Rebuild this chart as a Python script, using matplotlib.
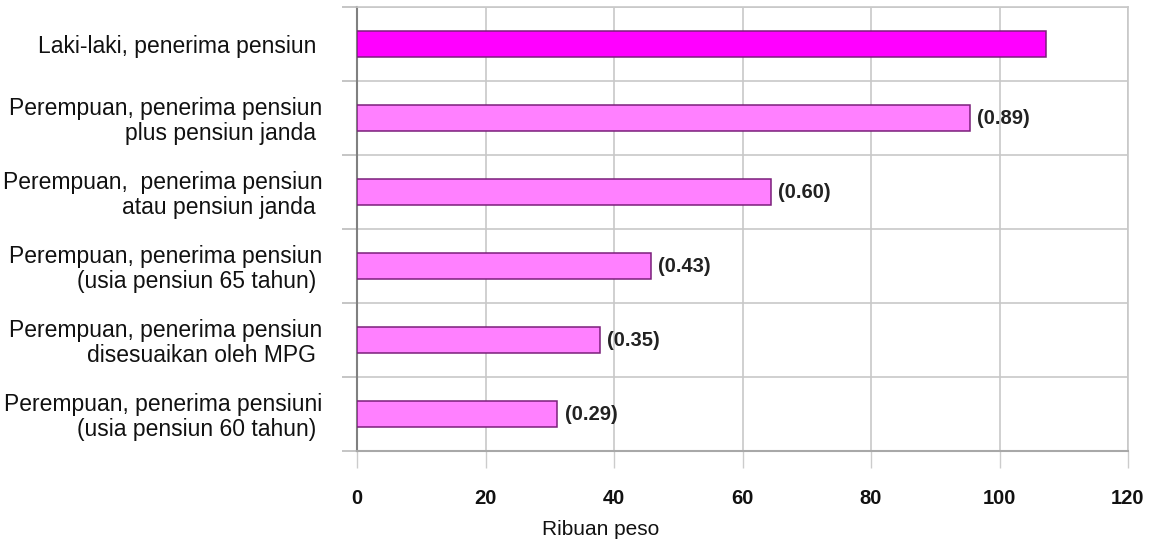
import matplotlib.pyplot as plt
import numpy as np

# Data
CATEGORIES = [
    "Laki-laki, penerima pensiun ",
    "Perempuan, penerima pensiun\nplus pensiun janda ",
    "Perempuan,  penerima pensiun\natau pensiun janda ",
    "Perempuan, penerima pensiun\n(usia pensiun 65 tahun) ",
    "Perempuan, penerima pensiun\ndisesuaikan oleh MPG ",
    "Perempuan, penerima pensiuni\n(usia pensiun 60 tahun) ",
]
VALUES = [107.3, 95.4, 64.5, 45.8, 37.8, 31.2]
RATIOS = [None, "(0.89)", "(0.60)", "(0.43)", "(0.35)", "(0.29)"]
XTICKS = [0, 20, 40, 60, 80, 100, 120]
XLABEL = "Ribuan peso"

W, H = 1158, 540
fig = plt.figure(figsize=(W / 100, H / 100), dpi=100)
fig.patch.set_facecolor("white")
ax = fig.add_axes([357 / W, 1 - 451 / H, (1128 - 357) / W, (451 - 7) / H])

n = len(CATEGORIES)
y = np.arange(n)
colors = ["#FF00FF"] + ["#FF80FF"] * (n - 1)
ax.barh(y, VALUES, height=0.36, color=colors, edgecolor="#7A1F7A",
        linewidth=1.1, zorder=3)

for yi, val, lab in zip(y, VALUES, RATIOS):
    if lab:
        ax.text(val + 1.1, yi, lab, va="center", ha="left", fontsize=14.5,
                fontweight="bold", color="#222222", family="Liberation Sans")

ax.set_ylim(n - 0.5, -0.5)
ax.set_xlim(0, 120)

# category labels sit between the boundary ticks
ax.set_yticks(y)
ax.set_yticklabels(CATEGORIES, fontsize=16.5, family="Liberation Sans",
                   color="#111111", multialignment="right", linespacing=1.08)
ax.tick_params(axis="y", which="major", length=0, pad=25)
ax.set_yticks(np.arange(n + 1) - 0.5, minor=True)
ax.tick_params(axis="y", which="minor", length=11, color="#BBBBBB", width=1.2)

ax.set_xticks(XTICKS)
ax.set_xticklabels([str(t) for t in XTICKS], fontsize=14.5, fontweight="bold",
                   family="Liberation Sans", color="#111111")
ax.tick_params(axis="x", length=12, color="#CCCCCC", width=1.0, pad=15)

ax.xaxis.grid(True, color="#C8C8C8", linewidth=1.2, zorder=0)
ax.yaxis.grid(True, which="minor", color="#C8C8C8", linewidth=1.2, zorder=0)
ax.set_axisbelow(True)

for side, sp in ax.spines.items():
    sp.set_color("#C8C8C8")
    sp.set_linewidth(1.2)
ax.spines["left"].set_color("#808080")
ax.spines["left"].set_linewidth(1.5)
ax.spines["bottom"].set_color("#A8A8A8")
ax.spines["bottom"].set_linewidth(1.5)

fig.text(601 / W, 1 - 535 / H, XLABEL, ha="center", va="baseline",
         fontsize=15, family="Liberation Sans", color="#111111")

fig.savefig("out.png", dpi=100, facecolor="white")
